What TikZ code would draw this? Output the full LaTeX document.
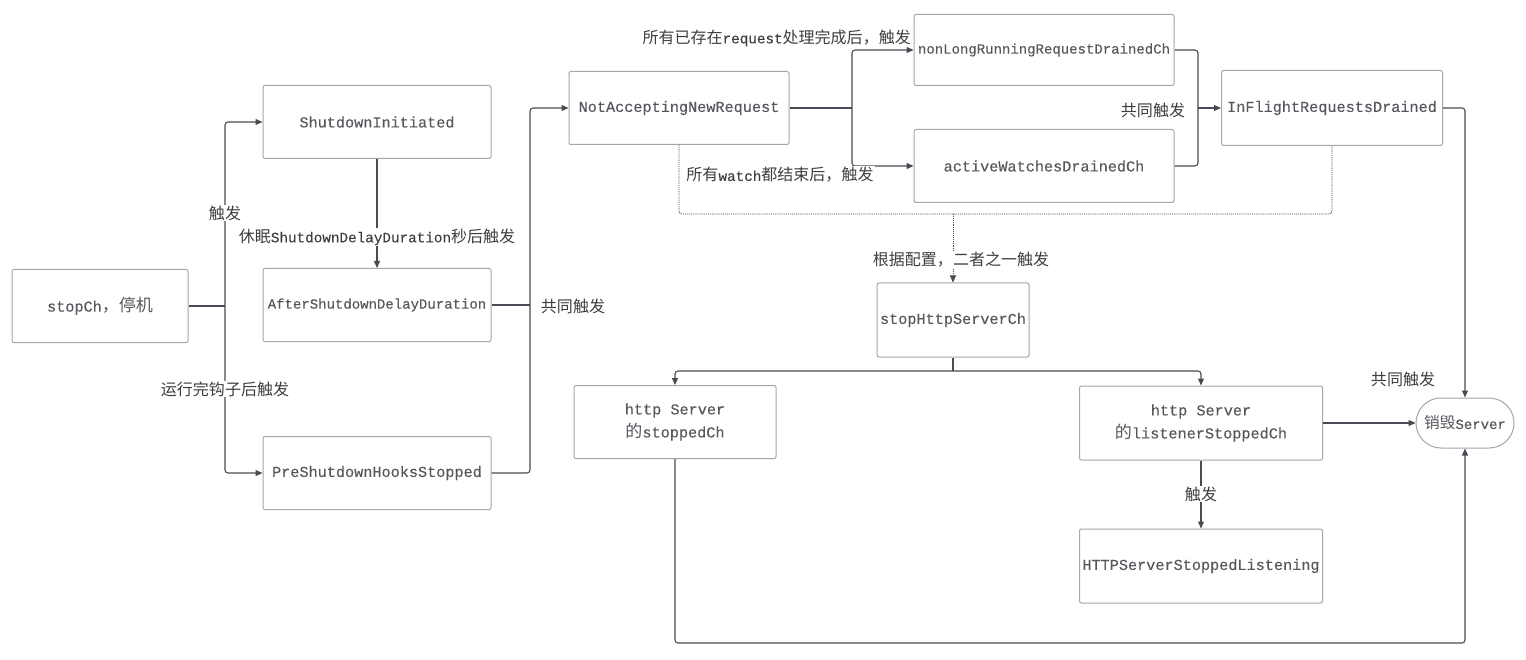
\documentclass[tikz,border=0pt]{standalone}
\usepackage{fontspec}
\setmainfont[FakeBold=0.2]{Liberation Mono}
\newfontfamily\cjkfont[Scale=1.12]{Noto Sans CJK SC}
\newcommand\zhtxt[1]{{\cjkfont #1}}
\usetikzlibrary{arrows.meta}
\definecolor{edgegray}{HTML}{474C54}
\definecolor{boxgray}{HTML}{A3A6AB}
\definecolor{txtgray}{HTML}{55595E}
\definecolor{lblgray}{HTML}{3C4043}

\begin{document}
\begin{tikzpicture}[x=1pt,y=-1pt,>={Triangle[length=7pt,width=6pt]},
 box/.style={draw=boxgray,line width=1pt,rounded corners=2pt,minimum height=73pt,inner sep=0pt,text=txtgray,font=\fontsize{15.2}{23}\selectfont,align=center},
 small/.style={font=\fontsize{14}{22}\selectfont},
 lbl/.style={fill=white,inner sep=1pt,text=lblgray,font=\fontsize{14.3}{17}\selectfont},
 conn/.style={draw=edgegray,line width=1.1pt,rounded corners=3pt},
 dotconn/.style={conn,densely dotted,line width=0.8pt}]
\fill[white] (0,0) rectangle (1526,660);
\node[box,minimum width=176pt] (stop) at (100,306) {stopCh\zhtxt{，停机}};
\node[box,minimum width=228pt] (init) at (377,122) {ShutdownInitiated};
\node[box,small,minimum width=228pt] (after) at (377,305) {AfterShutdownDelayDuration};
\node[box,minimum width=228pt] (pre) at (377,473) {PreShutdownHooksStopped};
\node[box,minimum width=220pt] (notacc) at (679,108) {NotAcceptingNewRequest};
\node[box,small,minimum width=260pt,minimum height=71pt] (nonlong) at (1044,50) {nonLongRunningRequestDrainedCh};
\node[box,minimum width=260pt] (watch) at (1044,166) {activeWatchesDrainedCh};
\node[box,minimum width=221pt,minimum height=75pt] (inflight) at (1332,108) {InFlightRequestsDrained};
\node[box,minimum width=152pt,minimum height=74pt] (httpstop) at (953,320) {stopHttpServerCh};
\node[box,minimum width=202pt] (stopped) at (675,422) {http Server\\\zhtxt{的}stoppedCh};
\node[box,minimum width=243pt,minimum height=74pt] (listener) at (1201,423) {http Server\\\zhtxt{的}listenerStoppedCh};
\node[box,minimum width=243pt,minimum height=74pt] (listening) at (1201,566) {HTTPServerStoppedListening};
\node[box,small,minimum width=98pt,minimum height=50pt,rounded corners=25pt] (destroy) at (1465,423) {\zhtxt{销毁}Server};
\coordinate (j1) at (225,306);\coordinate (j2) at (530,305);\coordinate (j3) at (852,108);\coordinate (j4) at (1198,108);
\coordinate (d1) at (953,214);\coordinate (j5) at (953,371);\coordinate (b1) at (1465,643);
\draw[conn] (stop)--(j1);\draw[conn,->] (j1) |- (init);\draw[conn,->] (j1) |- (pre);
\draw[conn,->] (init)--(after);
\draw[conn] (after)--(j2);\draw[conn,->] (pre) -| (j2) |- (notacc);
\draw[conn] (notacc)--(j3);\draw[conn,->] (j3) |- (nonlong);\draw[conn,->] (j3) |- (watch);
\draw[conn] (nonlong) -| (j4);\draw[conn] (watch) -| (j4);\draw[conn,->] (j4)--(inflight);
\draw[dotconn] (notacc) |- (d1) -| (inflight);\draw[dotconn,->] (d1)--(httpstop);
\draw[conn] (httpstop)--(j5);\draw[conn,->] (j5) -| (stopped);\draw[conn,->] (j5) -| (listener);
\draw[conn,->] (listener)--(destroy);\draw[conn,->] (listener)--(listening);
\draw[conn,->] (inflight) -| (destroy);\draw[conn,->] (stopped) |- (b1)--(destroy);
\node[lbl] (l1) at (225,213) {\zhtxt{触发}};
\node[lbl] (l2) at (225,389) {\zhtxt{运行完钩子后触发}};
\node[lbl] (l3) at (377,237) {\zhtxt{休眠}ShutdownDelayDuration\zhtxt{秒后触发}};
\node[lbl] (l4) at (573,306) {\zhtxt{共同触发}};
\node[lbl,anchor=east] (l5) at (912,38) {\zhtxt{所有已存在}request\zhtxt{处理完成后，触发}};
\node[lbl] (l6) at (780,175) {\zhtxt{所有}watch\zhtxt{都结束后，触发}};
\node[lbl] (l7) at (1153,110) {\zhtxt{共同触发}};
\node[lbl] (l8) at (961,260) {\zhtxt{根据配置，二者之一触发}};
\node[lbl] (l9) at (1403,379) {\zhtxt{共同触发}};
\node[lbl] (l10) at (1201,494) {\zhtxt{触发}};
\end{tikzpicture}
\end{document}
